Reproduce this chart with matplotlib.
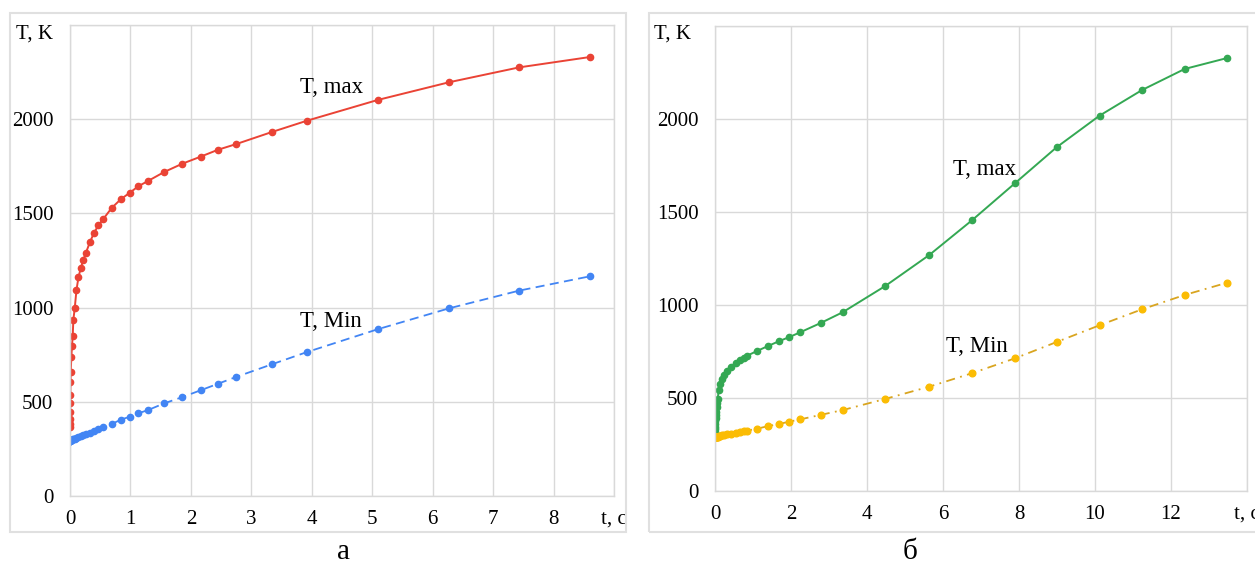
import matplotlib
matplotlib.use("Agg")
import matplotlib.pyplot as plt
from matplotlib.patches import Rectangle

plt.rcParams['font.family'] = ['Liberation Serif', 'DejaVu Serif']

# panel а: time, s and temperatures, K
t_a = [0, 0.001, 0.002, 0.003, 0.004, 0.005, 0.008, 0.012, 0.022, 0.033,
       0.045, 0.055, 0.078, 0.107, 0.14, 0.18, 0.22, 0.26, 0.33, 0.40,
       0.47, 0.55, 0.69, 0.84, 0.99, 1.13, 1.29, 1.56, 1.86, 2.16,
       2.45, 2.75, 3.34, 3.92, 5.09, 6.27, 7.43, 8.60]
tmax_a = [365, 384, 407, 444, 492, 534, 603, 658, 736, 798,
          849, 934, 996, 1093, 1161, 1212, 1253, 1288, 1348, 1398,
          1437, 1470, 1529, 1575, 1610, 1644, 1672, 1720, 1764, 1801,
          1838, 1868, 1932, 1992, 2102, 2196, 2275, 2330]
tmin_a = [293, 293, 293, 294, 294, 294, 295, 295, 297, 298,
          300, 301, 304, 307, 312, 317, 322, 327, 336, 344,
          353, 364, 382, 405, 421, 439, 456, 492, 525, 561,
          596, 632, 699, 764, 885, 996, 1090, 1166]

# panel б
t_b = [0, 0.002, 0.004, 0.007, 0.01, 0.015, 0.02, 0.03, 0.04, 0.055,
       0.07, 0.10, 0.13, 0.18, 0.24, 0.31, 0.42, 0.55, 0.66, 0.75,
       0.83, 1.11, 1.40, 1.68, 1.96, 2.24, 2.80, 3.36, 4.48, 5.64,
       6.76, 7.89, 8.99, 10.12, 11.24, 12.36, 13.48]
tmax_b = [318, 332, 346, 360, 375, 391, 408, 426, 450, 471,
          495, 543, 574, 600, 624, 647, 668, 690, 705, 715,
          726, 753, 780, 805, 828, 853, 905, 961, 1102, 1269,
          1455, 1654, 1848, 2018, 2156, 2269, 2328]
tmin_b = [288, 288, 288, 289, 289, 289, 290, 290, 291, 292,
          293, 295, 297, 299, 302, 305, 309, 314, 318, 321,
          324, 335, 349, 360, 373, 385, 410, 435, 495, 561,
          633, 713, 801, 891, 977, 1054, 1120]

xticks_a = list(range(0, 10))
xlabels_a = [str(v) for v in range(0, 9)] + ['t, c']
xticks_b = list(range(0, 16, 2))
xlabels_b = [str(v) for v in range(0, 14, 2)] + ['t, c']
yticks = [0, 500, 1000, 1500, 2000, 2500]
ylabels = ['0', '500', '1000', '1500', '2000', '']

W, H = 1255, 565
fig = plt.figure(figsize=(W / 100, H / 100), dpi=100)

grid_c = '#D9D9D9'
fs = 15
fs_lab = 16.5

# outer frames of the two panels
fig.patches.append(Rectangle((10 / W, 1 - 532 / H), 616 / W, 519 / H,
                             transform=fig.transFigure, fill=False,
                             edgecolor='#E0E0E0', lw=1.5))
fig.patches.append(Rectangle((649 / W, 1 - 532 / H), 620 / W, 519 / H,
                             transform=fig.transFigure, fill=False,
                             edgecolor='#E0E0E0', lw=1.5))


def style_axes(ax, xmax, xt, xl):
    ax.set_xlim(0, xmax)
    ax.set_ylim(0, 2500)
    ax.set_xticks(xt)
    ax.set_xticklabels(xl, fontsize=fs)
    ax.set_yticks(yticks)
    ax.set_yticklabels(ylabels, fontsize=fs)
    ax.tick_params(length=0)
    ax.tick_params(axis='y', pad=12)
    ax.tick_params(axis='x', pad=10)
    ax.grid(True, color=grid_c, lw=1)
    ax.set_axisbelow(True)
    for s in ax.spines.values():
        s.set_color(grid_c)
        s.set_linewidth(1)


ax1 = fig.add_axes([70 / W, 1 - 496 / H, 544 / W, 471 / H])
style_axes(ax1, 9, xticks_a, xlabels_a)
ax1.plot(t_a, tmax_a, color='#EA4335', lw=1.4, marker='o', ms=4.5)
ax1.plot(t_a, tmin_a, color='#4285F4', lw=1.3, ls=(0, (5, 3)), marker='o', ms=4.5)
ax1.text(4.33, 2166, 'T, max', fontsize=fs_lab, ha='center', va='center')
ax1.text(4.32, 924, 'T, Min', fontsize=fs_lab, ha='center', va='center')

ax2 = fig.add_axes([715 / W, 1 - 491 / H, 532 / W, 465 / H])
style_axes(ax2, 14, xticks_b, xlabels_b)
ax2.plot(t_b, tmax_b, color='#34A853', lw=1.4, marker='o', ms=4.5)
ax2.plot(t_b, tmin_b, color='#D9A520', lw=1.3, ls=(0, (5, 3, 1, 3)),
         marker='o', ms=4.8, mfc='#FBBC04', mec='#FBBC04')
ax2.text(7.09, 1726, 'T, max', fontsize=fs_lab, ha='center', va='center')
ax2.text(6.9, 776, 'T, Min', fontsize=fs_lab, ha='center', va='center')

fig.text(35 / W, 1 - 34 / H, 'T, K', fontsize=fs, ha='center', va='center')
fig.text(673 / W, 1 - 34 / H, 'T, K', fontsize=fs, ha='center', va='center')
fig.text(343 / W, 1 - 552 / H, 'а', fontsize=21, ha='center', va='center')
fig.text(910 / W, 1 - 552 / H, 'б', fontsize=21, ha='center', va='center')

fig.savefig('out.png', dpi=100)
